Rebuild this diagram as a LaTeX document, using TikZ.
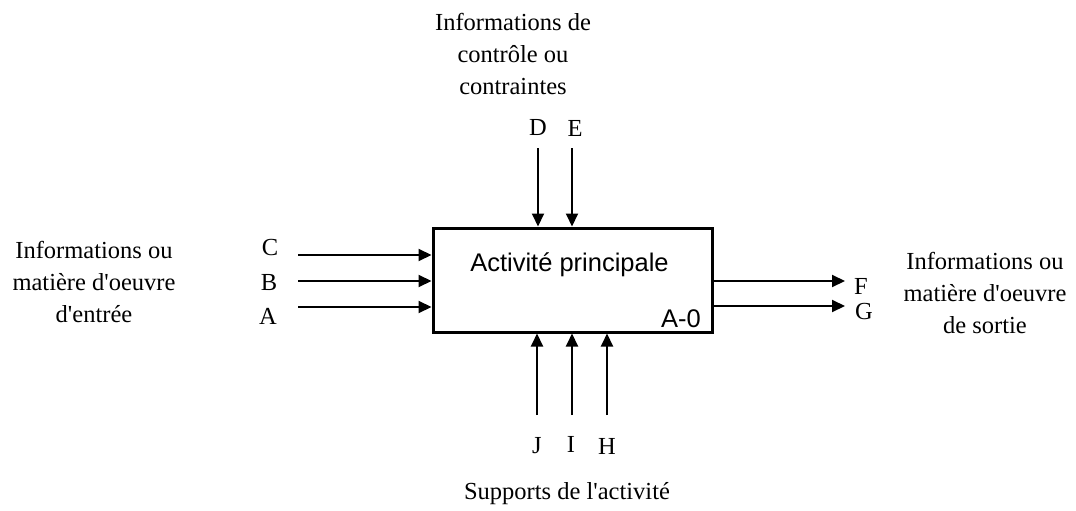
\documentclass[tikz,border=0pt]{standalone}
\usepackage{fontspec}
\setmainfont{Liberation Serif}
\setsansfont{Liberation Sans}
\usepackage{tikz}
\usetikzlibrary{arrows.meta,positioning,calc}

\begin{document}
\begin{tikzpicture}[x=1pt,y=-1pt,
  flow/.style={line width=2pt, -{Triangle[length=13pt,width=12pt]}},
  lbl/.style={font=\fontsize{24.5}{32}\selectfont, inner sep=0pt, align=center},
  letter/.style={font=\fontsize{24.5}{28}\selectfont, inner sep=0pt}]
\useasboundingbox (0,0) rectangle (1076,511);

% Main activity box
\node[draw, rectangle, line width=3pt, minimum width=279pt, minimum height=104pt, inner sep=0pt] (box) at (572.5,280) {};
\node[font=\sffamily\fontsize{25.5}{28}\selectfont, inner sep=0pt] (title) at (569.5,265) {Activité principale};
\node[font=\sffamily\fontsize{25.5}{28}\selectfont, inner sep=0pt] (ref) at (681,319) {A-0};

% Controls (top)
\coordinate (cd) at (538,148);
\coordinate (ce) at (572,148);
\node[letter] (D) at (538,128) {D};
\node[letter] (E) at (575,128) {E};
\node[lbl] (ctrl) at (513,54) {Informations de\\contrôle ou\\contraintes};
\draw[flow] (cd) -- (cd |- box.north);
\draw[flow] (ce) -- (ce |- box.north);

% Inputs (left)
\coordinate (cc) at (298,255);
\coordinate (cb) at (298,281);
\coordinate (ca) at (298,307);
\node[letter] (C) at (270,248) {C};
\node[letter] (B) at (269,283) {B};
\node[letter] (A) at (268,316) {A};
\node[lbl] (input) at (94,282) {Informations ou\\matière d\textquotesingle oeuvre\\d\textquotesingle entrée};
\draw[flow] (cc) -- (cc -| box.west);
\draw[flow] (cb) -- (cb -| box.west);
\draw[flow] (ca) -- (ca -| box.west);

% Outputs (right)
\coordinate (cf) at (845,281);
\coordinate (cg) at (845,306);
\node[letter] (F) at (861,286) {F};
\node[letter] (G) at (864,312) {G};
\node[lbl] (output) at (985,293) {Informations ou\\matière d\textquotesingle oeuvre\\de sortie};
\draw[flow] (cf -| box.east) -- (cf);
\draw[flow] (cg -| box.east) -- (cg);

% Mechanisms (bottom)
\coordinate (cj) at (537,415);
\coordinate (ci) at (572,415);
\coordinate (ch) at (607,415);
\node[letter] (J) at (537,446) {J};
\node[letter] (I) at (571,444) {I};
\node[letter] (H) at (607,446) {H};
\node[lbl] (mech) at (567,494) {Supports de l\textquotesingle activité};
\draw[flow] (cj) -- (cj |- box.south);
\draw[flow] (ci) -- (ci |- box.south);
\draw[flow] (ch) -- (ch |- box.south);

\end{tikzpicture}
\end{document}
